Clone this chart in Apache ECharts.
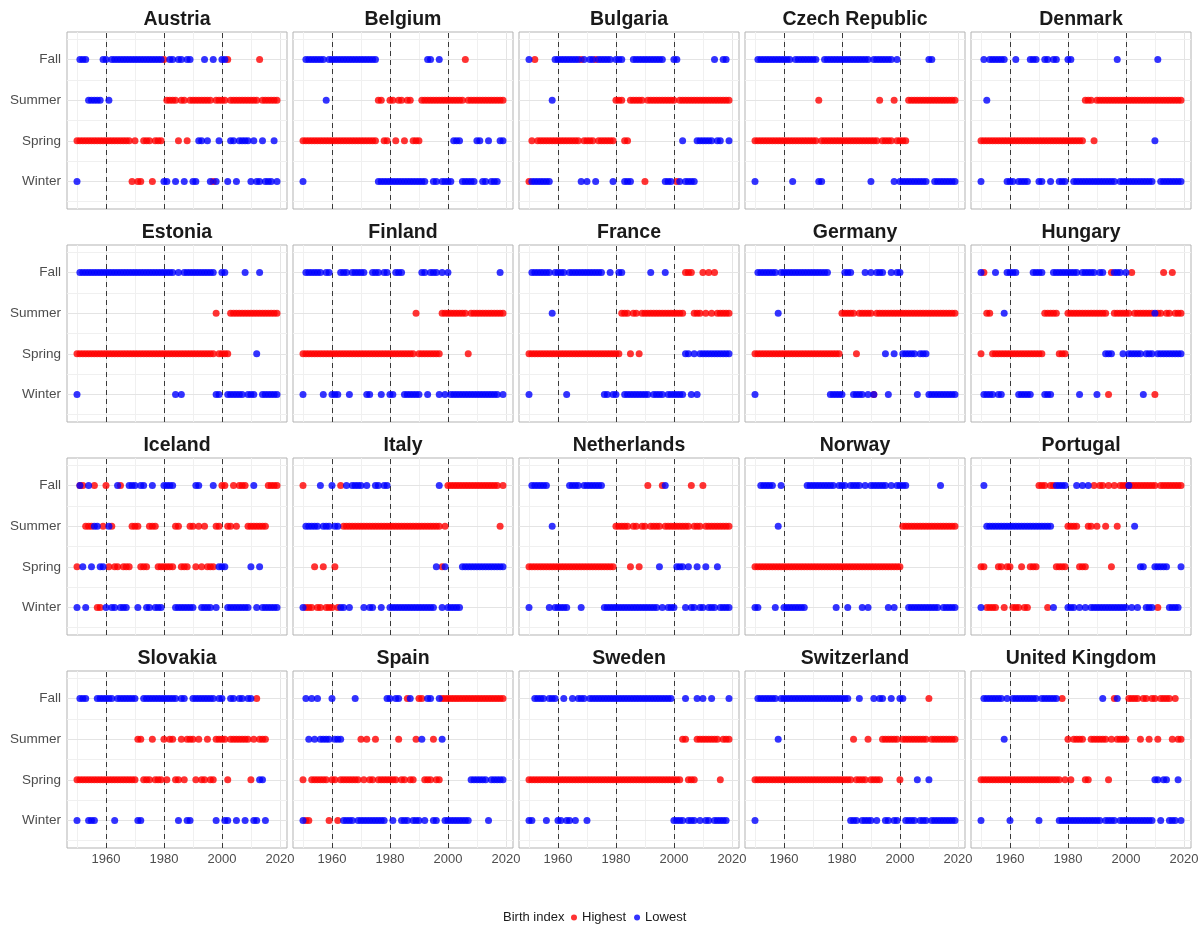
<!DOCTYPE html>
<html>
<head>
<meta charset="utf-8">
<script src="https://cdn.jsdelivr.net/npm/echarts@6/dist/echarts.min.js"></script>
<style>
  html, body { margin: 0; padding: 0; background: #fff; }
  #chart { width: 1202px; height: 928px; }
</style>
</head>
<body>
<div id="chart"></div>
<script>
const countries = ['Austria', 'Belgium', 'Bulgaria', 'Czech Republic', 'Denmark',
  'Estonia', 'Finland', 'France', 'Germany', 'Hungary',
  'Iceland', 'Italy', 'Netherlands', 'Norway', 'Portugal',
  'Slovakia', 'Spain', 'Sweden', 'Switzerland', 'United Kingdom'];
const seasons = ['Winter', 'Spring', 'Summer', 'Fall'];
// one letter per year from 1950, grouped by decade: W winter, P spring, S summer, F fall, . no data
const seasonCodes = 'WPSF';
const firstYear = 1950;
const yearTicks = [1960, 1980, 2000, 2020];
const refYears = [1960, 1980, 2000];

// season with the highest birth index, per country and year
const highestSeason = [
  'PPPPPPPPPP PPPPPPPPPW PWWPPPWPPP FSSSSPSSPS SSSSSSSWSS SSFSSSSSSS SSSFSSSSSS',
  'PPPPPPPPPP PPPPPPPPPP PPPPPPSSPP SSPSSPSSPP PSSSSSSSSS SSSSSSFSSS SSSSSSSSSS',
  'WPFPPPPPPP PPPPPPPPFP PPPFPPPPPP SSSPPSSSSS WSSSSSSSSS SWSSSSSSSS SSSSSSSSSS',
  'PPPPPPPPPP PPPPPPPPPP PPSPPPPPPP PPPPPPPPPP PPPSPPPPSP PPPSSSSSSS SSSSSSSSSS',
  'PPPPPPPPPP PPPPPPPPPP PPPPPPPPPP PPPPPPSSSP SSSSSSSSSS SSSSSSSSSS SSSSSSSSSS',
  'PPPPPPPPPP PPPPPPPPPP PPPPPPPPPP PPPPPPPPPP PPPPPPPPSP PPPSSSSSSS SSSSSSSSSS',
  'PPPPPPPPPP PPPPPPPPPP PPPPPPPPPP PPPPPPPPPS PPPPPPPPSS SSSSSSSPSS SSSSSSSSSS',
  'PPPPPPPPPP PPPPPPPPPP PPPPPPPPPP PPSSSPSSPS SSSSSSSSSS SSSSFFFSSS FSFSFSSSSS',
  'PPPPPPPPPP PPPPPPPPPP PPPPPPPPPP SSSSSPSSSS SWSSSSSSSS SSSSSSSSSS SSSSSSSSSS',
  'PFSSPPPPPP PPPPPPPPPP PPSSSSSPPP SSSSSSSSSS SSSSWFSSSS SSFSSSSSSS WSSFSSFSSS',
  'PFFSSSFWWS FPSPPFPPPS SSPPPSSSPP PPPPSSPPPS SPSPSPPPSS FFSSFSFFFS SSSSSSFFFF',
  'FWWWPWWPWW WPWFSSSSSS SSSSSSSSSS SSSSSSSSSS SSSSSSSSPS FFFFFFFFFF FFFFFFFFSF',
  'PPPPPPPPPP PPPPPPPPPP PPPPPPPPPP SSSSSPSSPS SFSSSSFSSS SSSSSSFSSS FSSSSSSSSS',
  'PPPPPPPPPP PPPPPPPPPP PPPPPPPPPP PPPPPPPPPP PPPPPPPPPP PSSSSSSSSS SSSSSSSSSS',
  'PPWWWWPPWP PWWWPWWPPP FFFWFFPPPP SSSSPPPSSF SFFSFPFSFF FFFFFFFFFF FWFFFFFFFF',
  'PPPPPPPPPP PPPPPPPPPP PSSPPPSPPP SPSSPPSPSS SPSPPSPPSS SSPSSSSSSS PSFSSS....',
  'PWWPPPPPPW PPWPPPPPPP SPSPPSPPPP PPPSPPFPPS FFPPPSPPFF FFFFFFFFFF FFFFFFFFFF',
  'PPPPPPPPPP PPPPPPPPPP PPPPPPPPPP PPPPPPPPPP PPPPPPPPPP PPPSSPPPSS SSSSSSPSSS',
  'PPPPPPPPPP PPPPPPPPPP PPPPPPPPPP PPPPSPPPPS PPPPSSSSSS PSSSSSSSSS FSSSSSSSSS',
  'PPPPPPPPPP PPPPPPPPPP PPPPPPPPFP SPSSSSPPSS SSSSPSFSSS SFFFFSFFSF FSFFFFSFSS'
];

// season with the lowest birth index
const lowestSeason = [
  'WFFFSSSSSF FSFFFFFFFF FFFFFFFFFF WWFFWFFWFF WWPPFPWFWP FFWPPWPPPP WPWWPWWWPW',
  'WFFFFFFFSF FFFFFFFFFF FFFFFFWWWW WWWWWWWWWW WWWFFWWFWW WWPPPWWWWW PPWWPWWWPP',
  'FWWWWWWWSF FFFFFFFFWF WFFWFFFFFW FFFWWWFFFF FFFFFFFWWW FFWPWWWWPP PPPPFPPFFP',
  'WFFFFFFFFF FFFWFFFFFF FFWWFFFFFF FFFFFFFFFF WFFFFFFFWF WWWWWWWWWW FFWWWWWWWW',
  'WFSFFFFFFW WWFWWWWFFF WWFFWFFWWW FFWWWWWWWW WWWWWWWFWW WWWWWWWWWW PFWWWWWWWW',
  'WFFFFFFFFF FFFFFFFFFF FFFFFFFFFF FFFFWFWFFF FFFFFFFFWW FFWWWWWWFW WWPFWWWWWW',
  'WFFFFFFWFF WWWFFFWFFF FFWWFFFWFF WWFFFWWWWW WFFWFFFWFW FWWWWWWWWW WWWWWWWWFW',
  'WFFFFFFFSF FFFWFFFFFF FFFFFFWWFW WFFWWWWWWW WWFWWWWFWW WWWWPPWPWP PPPPPPPPPP',
  'WFFFFFFFSF FFFFFFFFFF FFFFFFWWWW WFFFWWWWFW FWFFFPWFPF FPPPPPWPPP WWWWWWWWWW',
  'FWWWWFWWSF FFFWWWWWFF FFWWWFFFFF FFFFWFFFFF WFFPPPFFFP FPPPPPWPPP SPPPPPPPPP',
  'WFPWFPSSPP WSWWFWWWFF FWFFWWFWWW FFFFWWWWWW WFFWWWWFWP PPWWWWWWWW PFWPWWWWWW',
  'WSSSSSFSSS FSSWWFWFFF FWFWWFFWFF WWWWWWWWWW WWWWWWPFWP WWWWWPPPPP PPPPPPPPPP',
  'WFFFFFFWSW WWWWFFFFWF FFFFFFWWWW WWWWWWWWWW WWWWWPWFWW WPPPWPWWPW WPWWWPWWWW',
  'WWFFFFFWSF WWWWWWWWFF FFFFFFFFWF FFWFFFFWFW FFFFFFWFWF FFFWWWWWWW WWWWFWWWWW',
  'WFSSSSSSSS SSSSSSSSSS SSSSSWFFFF WWWFWFWFWW WWWWWWWWWW WFWSWPPWWW PPPPPWWWWP',
  'WFFFWWWFFF FFFWFFFFFF FWWFFFFFFF FFFFFWFFWW FFFFFFFFWF FWWFFWFFWF FWWPPW....',
  'WFSFSFSSSS FSSSWWWWFW WWWWWWWWWF FWFFWWWFWW WSWFFWWFSW WWWWWWWWPP PPPPWPPPPP',
  'WWFFFFWFFF WWFWWFWFFF WFFFFFFFFF FFFFFFFFFF FFFFFFFFFF WWWWFWWWFW FWWFWWWWWF',
  'WFFFFFFFSF FFFFFFFFFF FFFFFFFFFF FFFWWWFWWW WFWFFWWFWW FFWWWWPWWW PWWWWWWWWW',
  'WFFFFFFFSF WFFFFFFFFF WFFFFFFWWW WWWWWWWWWW WWFWWWWFWW WWWWWWWWWW PPWPPWWWPW'
];

// 每年的季节代码 -> [year, season]
function toPoints(s) {
  let pts = [];
  let codes = s.replace(/ /g, '');
  for (let i = 0; i < codes.length; i++) {
    let k = seasonCodes.indexOf(codes[i]);
    if (k >= 0) pts.push([firstYear + i, k + 1]);
  }
  return pts;
}

// panel grid lines + dashed reference years
function panelLines() {
  let lines = [];
  for (let y = 1950; y <= 2020; y += 10) {
    lines.push({ xAxis: y, lineStyle: { color: y % 20 == 0 ? '#e4e4e4' : '#f0f0f0', width: 1, type: 'solid' } });
  }
  for (let v = 0.5; v <= 4.5; v += 0.5) {
    lines.push({ yAxis: v, lineStyle: { color: v % 1 == 0 ? '#e4e4e4' : '#f0f0f0', width: 1, type: 'solid' } });
  }
  refYears.forEach(y => {
    lines.push({ xAxis: y, lineStyle: { color: '#3a3a3a', width: 1, type: [5, 4] } });
  });
  return lines;
}

let myChart = echarts.init(document.getElementById('chart'));

let grids = [], xAxes = [], yAxes = [], titles = [], series = [];
let font = 'Liberation Sans, Arial, sans-serif';

for (var i = 0; i < countries.length; i++) {
  let row = Math.floor(i / 5);
  let col = i % 5;
  let left = 67 + col * 226;
  let top = 32 + row * 213;

  grids.push({
    left: left, top: top, width: 220, height: 177,
    show: true, borderColor: '#b3b3b3', borderWidth: 1, backgroundColor: '#fff'
  });

  titles.push({
    text: countries[i],
    left: left + 110, top: top - 22, textAlign: 'center', padding: 0,
    textStyle: { fontSize: 19.5, fontWeight: 'bold', color: '#1a1a1a', fontFamily: font }
  });

  xAxes.push({
    gridIndex: i, type: 'value', min: 1946.55, max: 2022.45,
    splitLine: { show: false }, axisLine: { show: false }, axisTick: { show: false },
    axisLabel: {
      show: row == 3, customValues: yearTicks, color: '#4d4d4d', fontSize: 13, margin: 5, fontFamily: font,
      formatter: v => String(v)
    }
  });

  yAxes.push({
    gridIndex: i, type: 'value', min: 0.32, max: 4.68,
    splitLine: { show: false }, axisLine: { show: false }, axisTick: { show: false },
    axisLabel: {
      show: col == 0, customValues: [1, 2, 3, 4], color: '#4d4d4d', fontSize: 13.5, margin: 6, fontFamily: font,
      formatter: v => seasons[Math.round(v) - 1]
    }
  });

  series.push({
    name: 'Highest', type: 'scatter', xAxisIndex: i, yAxisIndex: i,
    data: toPoints(highestSeason[i]),
    symbolSize: 7, itemStyle: { color: '#ff0000' }, z: 3, silent: true,
    markLine: {
      silent: true, z: 1, animation: false, symbol: ['none', 'none'],
      label: { show: false }, emphasis: { disabled: true },
      data: panelLines()
    }
  });
  series.push({
    name: 'Lowest', type: 'scatter', xAxisIndex: i, yAxisIndex: i,
    data: toPoints(lowestSeason[i]),
    symbolSize: 7, itemStyle: { color: '#0000ff' }, z: 4, silent: true
  });
}

titles.push({
  text: 'Birth index', left: 503, top: 911, padding: 0,
  textStyle: { fontSize: 13, fontWeight: 'normal', color: '#1a1a1a', fontFamily: font }
});

let option = {
  animation: false,
  backgroundColor: '#fff',
  textStyle: { fontFamily: font },
  title: titles,
  legend: {
    data: ['Highest', 'Lowest'], left: 571, top: 911, padding: 0,
    icon: 'circle', itemWidth: 6, itemHeight: 6, itemGap: 8, selectedMode: false,
    textStyle: { fontSize: 13, color: '#1a1a1a', fontFamily: font }
  },
  grid: grids,
  xAxis: xAxes,
  yAxis: yAxes,
  series: series
};

myChart.setOption(option);
</script>
</body>
</html>
